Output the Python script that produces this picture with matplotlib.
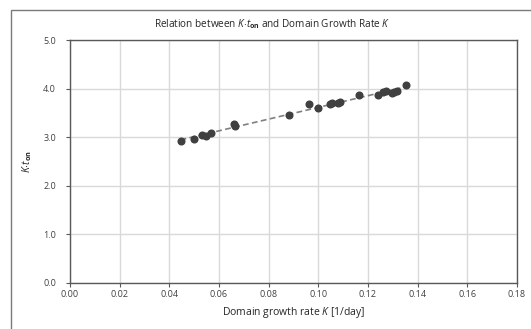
import matplotlib
matplotlib.use("Agg")
import matplotlib.pyplot as plt
from matplotlib.patches import Rectangle
import numpy as np

# values
growth_rate = [0.0445, 0.0498, 0.0533, 0.0547, 0.0567, 0.0661, 0.0663, 0.0881,
               0.0963, 0.0998, 0.1046, 0.1056, 0.1081, 0.1089, 0.1162, 0.1241,
               0.1261, 0.1272, 0.1297, 0.1305, 0.1315, 0.1352]
k_ton = [2.92, 2.96, 3.04, 3.02, 3.09, 3.27, 3.24, 3.45,
         3.68, 3.61, 3.69, 3.71, 3.70, 3.72, 3.86, 3.86,
         3.93, 3.96, 3.91, 3.93, 3.95, 4.07]
x_ticks = [0.00, 0.02, 0.04, 0.06, 0.08, 0.10, 0.12, 0.14, 0.16, 0.18]
y_ticks = [0.0, 1.0, 2.0, 3.0, 4.0, 5.0]

plt.rcParams["font.family"] = ["Open Sans", "DejaVu Sans"]
plt.rcParams["mathtext.fontset"] = "custom"
plt.rcParams["mathtext.rm"] = "Open Sans"
plt.rcParams["mathtext.it"] = "Open Sans:italic"
plt.rcParams["mathtext.bf"] = "Open Sans:bold"

W, H = 531, 329
fig = plt.figure(figsize=(W / 100, H / 100), dpi=100)
ax = fig.add_axes([70 / W, 1 - 283 / H, (517 - 70) / W, (283 - 40) / H])

# outer chart-area border (only left and top visible)
fig.patches.append(Rectangle((11 / W, -0.1), 1.2, 1 - 10 / H + 0.1,
                             transform=fig.transFigure, fill=False,
                             edgecolor="#7a7a7a", linewidth=1.0))

ax.grid(True, color="#d9d9d9", linewidth=1.0)
ax.set_axisbelow(True)

xs = np.array(growth_rate)
ys = np.array(k_ton)
slope, icpt = np.polyfit(xs, ys, 1)
xl = np.array([xs.min(), xs.max()])
ax.plot(xl, slope * xl + icpt, linestyle=(0, (3.5, 2)), color="#808080",
        linewidth=1.2, zorder=2)
ax.plot(xs, ys, "o", color="#404040", markersize=4.8, zorder=3)

ax.set_xlim(0, 0.18)
ax.set_ylim(0, 5)
ax.set_xticks(x_ticks)
ax.set_yticks(y_ticks)
ax.set_xticklabels(["%.2f" % v for v in x_ticks])
ax.set_yticklabels(["%.1f" % v for v in y_ticks])
ax.tick_params(labelsize=6.5, labelcolor="#404040", length=3, width=0.8,
               color="#595959", pad=2)
ax.tick_params(axis="y", pad=7)

for s in ax.spines.values():
    s.set_color("#595959")
    s.set_linewidth(1.0)

ax.set_xlabel(r"Domain growth rate $\mathit{K}$ [1/day]", fontsize=7.5,
              color="#262626", labelpad=4)
ax.set_ylabel(r"$\mathit{K}{\cdot}\mathit{t}_{\mathbf{on}}$", fontsize=7.5,
              color="#262626", labelpad=7)
fig.text(272 / W, 1 - 24 / H,
         r"Relation between $\mathit{K}{\cdot}\mathit{t}_{\mathbf{on}}$ and Domain Growth Rate $\mathit{K}$",
         ha="center", va="center", fontsize=7.2, color="#262626")

fig.savefig("out.png", dpi=100)
